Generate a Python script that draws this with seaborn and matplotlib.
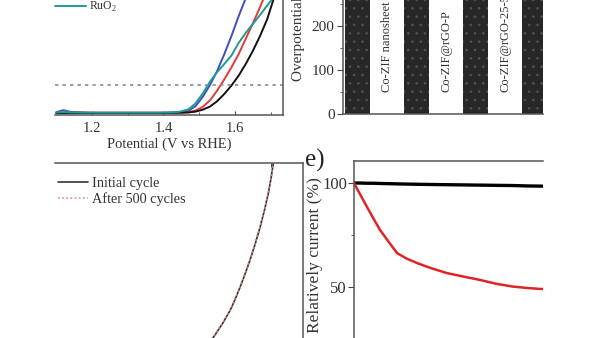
import matplotlib
matplotlib.use("Agg")
import matplotlib.pyplot as plt
import seaborn as sns
import numpy as np
import pandas as pd
from matplotlib.ticker import FixedLocator

sns.set_style("ticks")
plt.rcParams["font.family"] = ["Liberation Serif", "DejaVu Serif"]
plt.rcParams["mathtext.fontset"] = "custom"
plt.rcParams["mathtext.rm"] = "Liberation Serif"
plt.rcParams["hatch.linewidth"] = 0.7

# ---------------- data ----------------
# (top-left) LSV curves, current density (mA cm^-2) vs potential (V vs RHE)
lsv_potential = [1.10, 1.12, 1.14, 1.20, 1.30, 1.40, 1.44, 1.47, 1.49, 1.51, 1.53,
                 1.55, 1.57, 1.59, 1.61, 1.63, 1.65, 1.67, 1.69, 1.71, 1.73]
lsv_blue = [0.3, 1.0, 0.4, 0.1, 0.1, 0.1, 0.2, 0.8, 2.5, 5.8, 10.0,
            15.0, 21.0, 27.5, 34.5, 41.0, 48.0, 55.0, 62.0, 69.0, 76.0]
lsv_teal = [0.2, 0.3, 0.2, 0.1, 0.1, 0.1, 0.3, 1.3, 3.5, 7.0, 11.2,
            14.6, 17.5, 20.5, 25.0, 28.6, 31.8, 35.0, 38.4, 41.6, 45.0]
lsv_red = [0.1, 0.1, 0.1, 0.1, 0.1, 0.1, 0.1, 0.3, 0.9, 2.2, 4.5,
           8.0, 12.0, 16.3, 21.0, 26.5, 32.0, 37.8, 44.0, 50.0, 56.0]
lsv_black = [0.0, 0.0, 0.0, 0.0, 0.0, 0.0, 0.1, 0.2, 0.5, 1.2, 2.3,
             4.2, 6.8, 9.8, 13.3, 17.5, 22.2, 27.5, 33.5, 41.5, 48.0]
lsv_legend_label = "RuO$_2$"
ref_current = 10

# (top-right) overpotential bars
bar_categories = ["A", "B", "C", "D"]
bar_values = [380, 370, 360, 350]
bar_labels = ["Co-ZIF nanosheet", "Co-ZIF@rGO-P", "Co-ZIF@rGO-25-5"]

# (bottom-left) stability LSV
cyc_potential = [1.50, 1.52, 1.544, 1.565, 1.586, 1.60, 1.614, 1.628, 1.642, 1.656,
                 1.670, 1.682, 1.693, 1.70, 1.707, 1.72]
cyc_initial = [35.8, 38.8, 42.7, 46.5, 50.8, 54.5, 58.6, 63.0, 67.7, 72.9,
               78.6, 84.2, 89.9, 94.5, 99.9, 108.0]
cyc_after = [36.0, 39.0, 42.9, 46.7, 51.0, 54.7, 58.8, 63.2, 67.9, 73.1,
             78.8, 84.4, 90.1, 94.7, 100.1, 108.2]
cyc_labels = ["Initial cycle", "After 500 cycles"]

# (e) chronoamperometry, relative current (%)
time_h = [0.0, 0.35, 0.69, 1.03, 1.38, 1.83, 2.28, 2.8, 3.4, 4.1, 4.92,
          5.8, 6.67, 7.5, 8.41, 9.2, 10.0]
current_red = [100.0, 94.1, 88.5, 82.9, 77.4, 71.8, 66.3, 63.6, 61.3, 59.0, 56.7,
               55.0, 53.4, 51.6, 50.2, 49.5, 49.0]
current_black = [100.0, 100.0, 99.9, 99.9, 99.8, 99.7, 99.6, 99.5, 99.4, 99.3, 99.2,
                 99.1, 99.0, 98.9, 98.8, 98.6, 98.5]

# ---------------- layout ----------------
W, H = 600, 338
fig = plt.figure(figsize=(W / 100, H / 100), dpi=100)


def rect(l, t, r, b):
    return [l / W, 1 - b / H, (r - l) / W, (b - t) / H]


spine_c = "#555555"

# ---- top-left LSV ----
ax1 = fig.add_axes(rect(55, -60, 283, 115))
lsv_colors = ["#3a4fc0", "#e23a3a", "#111111", "#1e9a96"]
for ys, c in zip([lsv_blue, lsv_red, lsv_black, lsv_teal], lsv_colors):
    sns.lineplot(x=lsv_potential, y=ys, ax=ax1, color=c, lw=1.4)
ax1.axhline(ref_current, color="#8a8a8a", lw=1.2, ls=(0, (2, 2.5)))
ax1.set_xlim(1.0965, 1.7343)
ax1.set_ylim(-0.714, 61.8)
ax1.set_xticks([1.2, 1.4, 1.6])
ax1.xaxis.set_minor_locator(FixedLocator([1.3, 1.5, 1.7]))
ax1.set_xticklabels(["1.2", "1.4", "1.6"])
ax1.tick_params(axis="x", which="both", direction="in", length=3, labelsize=10.5,
                pad=5, colors="#444444", labelcolor="#333333")
ax1.tick_params(axis="x", which="minor", length=2)
ax1.set_yticks([])
ax1.set_xlabel("Potential (V vs RHE)", fontsize=10.5, color="#333333", labelpad=2)
ax1.spines["left"].set_visible(False)
for s in ["bottom", "right", "top"]:
    ax1.spines[s].set_color(spine_c)
    ax1.spines[s].set_linewidth(1.1)
teal_line = ax1.get_lines()[3]
ax1.legend([teal_line], [lsv_legend_label], loc="lower left",
           bbox_to_anchor=(55 / W, 1 - 14 / H),
           bbox_transform=fig.transFigure, frameon=False, fontsize=8.5,
           handlelength=2.6, handletextpad=0.25, borderpad=0, borderaxespad=0,
           labelcolor="#333333")

# ---- top-right bars ----
ax2 = fig.add_axes(rect(343, -60, 543, 114))
bdf = pd.DataFrame({"cat": bar_categories, "val": bar_values})
sns.barplot(data=bdf, x="cat", y="val", ax=ax2, color="#272727", width=0.42,
            saturation=1, linewidth=0)
for p in ax2.patches:
    p.set_hatch("..")
    p.set_facecolor("#272727")
    p.set_edgecolor("#4f4f4f")
for i, lab in enumerate(bar_labels):
    ax2.text(i + 0.5, 50, lab, rotation=90, ha="center", va="bottom",
             fontsize=9, color="#333333")
ax2.set_xlim(-0.2458, 3.144)
ax2.set_ylim(0, 395.5)
ax2.set_xticks([])
ax2.set_xlabel("")
ax2.set_yticks([0, 100, 200, 300])
ax2.yaxis.set_minor_locator(FixedLocator([50, 150, 250, 350]))
ax2.tick_params(axis="y", which="major", direction="out", length=4, labelsize=11,
                pad=2, colors="#444444", labelcolor="#333333")
ax2.tick_params(axis="y", which="minor", direction="out", length=2, colors="#444444")
ax2.set_ylabel("Overpotential (mV)", fontsize=11, color="#333333")
ax2.yaxis.set_label_coords(-0.19, 0.54)
ax2.spines["right"].set_visible(False)
ax2.spines["top"].set_visible(False)
for s in ["bottom", "left"]:
    ax2.spines[s].set_color(spine_c)
    ax2.spines[s].set_linewidth(1.1)

# ---- bottom-left stability LSV ----
ax3 = fig.add_axes(rect(55, 163, 303, 463))
sns.lineplot(x=cyc_potential, y=cyc_initial, ax=ax3, color="#333333", lw=1.2,
             label=cyc_labels[0])
sns.lineplot(x=cyc_potential, y=cyc_after, ax=ax3, color="#e08a8a", lw=1.2,
             ls=(0, (1, 1.5)), label=cyc_labels[1])
ax3.set_xlim(1.0965, 1.790)
ax3.set_ylim(0, 100)
ax3.xaxis.tick_top()
ax3.set_xticks([1.7])
ax3.set_xticklabels([])
ax3.tick_params(axis="x", direction="in", length=3, colors="#444444")
ax3.set_yticks([])
ax3.spines["left"].set_visible(False)
for s in ["top", "right", "bottom"]:
    ax3.spines[s].set_color(spine_c)
    ax3.spines[s].set_linewidth(1.1)
h, l = ax3.get_legend_handles_labels()
ax3.legend(h, l, loc="upper left", bbox_to_anchor=(58 / W, 1 - 177 / H),
           bbox_transform=fig.transFigure, frameon=False, fontsize=10.3,
           handlelength=2.1, handletextpad=0.3, borderpad=0, borderaxespad=0,
           labelspacing=0.15, labelcolor="#333333")

# ---- (e) chronoamperometry ----
ax4 = fig.add_axes(rect(354, 161, 543, 391))
sns.lineplot(x=time_h, y=current_black, ax=ax4, color="#000000", lw=2.4)
sns.lineplot(x=time_h, y=current_red, ax=ax4, color="#e02424", lw=1.8)
ax4.set_xlim(0, 10)
ax4.set_ylim(0, 110.6)
ax4.set_xticks([])
ax4.set_yticks([50, 100])
ax4.yaxis.set_minor_locator(FixedLocator([25, 75]))
ax4.tick_params(axis="y", which="major", direction="out", length=4, labelsize=12,
                pad=1, colors="#444444", labelcolor="#333333")
ax4.tick_params(axis="y", which="minor", direction="out", length=2, colors="#444444")
ax4.set_ylabel("Relatively current (%)", fontsize=12.5, color="#333333")
ax4.yaxis.set_label_coords(-0.165, 0.59)
ax4.spines["right"].set_visible(False)
ax4.spines["bottom"].set_visible(False)
for s in ["top", "left"]:
    ax4.spines[s].set_color(spine_c)
    ax4.spines[s].set_linewidth(1.1)

fig.text(305 / W, 1 - 167 / H, "e)", fontsize=18, color="#222222",
         ha="left", va="baseline")

fig.savefig("out.png", dpi=100, facecolor="white")
